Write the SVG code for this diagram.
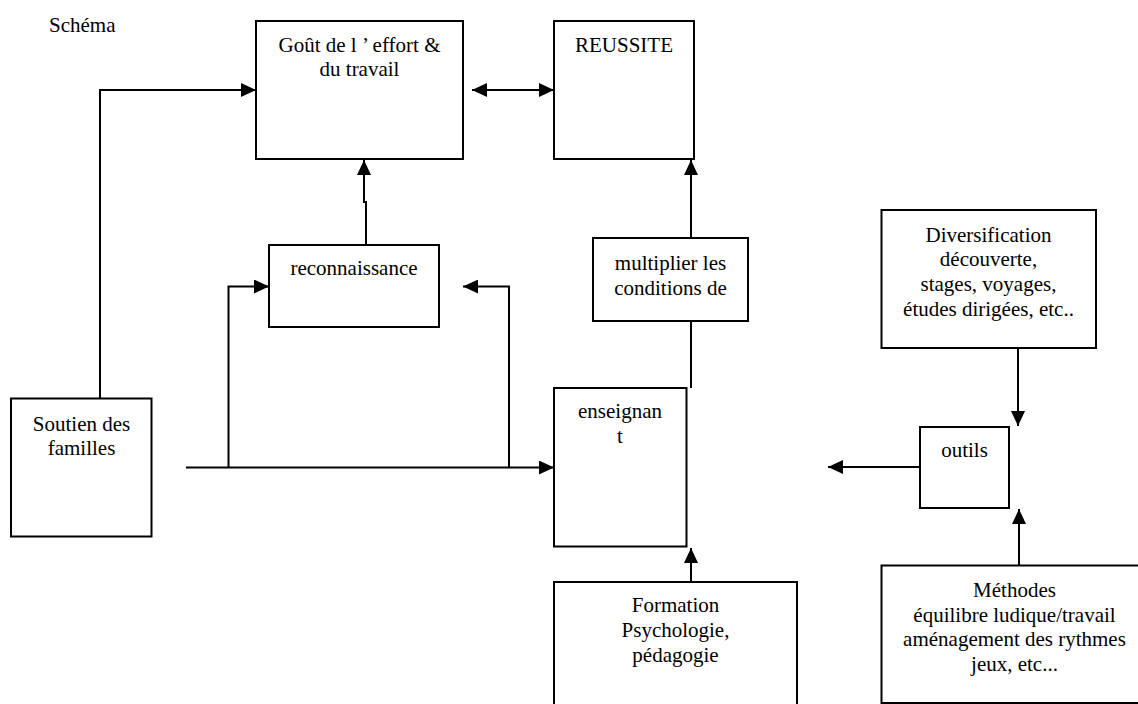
<svg xmlns="http://www.w3.org/2000/svg" width="1138" height="704" viewBox="0 0 1138 704">
<style>
text{font-family:'Liberation Serif','Times New Roman',Times,Tinos,'Nimbus Roman','DejaVu Serif',serif;font-size:21px;fill:#000;text-anchor:middle}
.box{fill:#fff;stroke:#000;stroke-width:2}
.c{fill:none;stroke:#000;stroke-width:2;marker-end:url(#ah)}
.n{fill:none;stroke:#000;stroke-width:2}
</style>
<defs>
<marker id="ah" markerUnits="userSpaceOnUse" markerWidth="15" markerHeight="14" refX="15" refY="7" orient="auto-start-reverse">
<path d="M0,0 L15,7 L0,14 z" fill="#000"/>
</marker>
</defs>
<rect width="1138" height="704" fill="#fff"/>
<text x="49" y="32" style="text-anchor:start">Schéma</text>
<g id="connectors">
<path class="c" d="M100,398 V90 H256"/>
<path class="c" d="M472,90 H554" style="marker-start:url(#ah)"/>
<path class="c" d="M366,245 V202 H364 V160"/>
<path class="c" d="M691,238 V160"/>
<path class="n" d="M691,321 V388"/>
<path class="c" d="M186,467.5 H554"/>
<path class="c" d="M228.5,467.5 V286.5 H269"/>
<path class="c" d="M509,467.5 V286.5 H463"/>
<path class="c" d="M691,582 V548"/>
<path class="c" d="M1018,348 V426"/>
<path class="c" d="M1019,565 V509"/>
<path class="c" d="M920,467 H828"/>
</g>
<g id="gout">
<rect class="box" x="256" y="21" width="207" height="138"/>
<text x="359.5" y="52">Goût de l ’ effort &amp;</text>
<text x="359.5" y="76">du travail</text>
</g>
<g id="reussite">
<rect class="box" x="554" y="21" width="140" height="138"/>
<text x="624" y="52">REUSSITE</text>
</g>
<g id="reconnaissance">
<rect class="box" x="269" y="245" width="170" height="82"/>
<text x="354" y="275">reconnaissance</text>
</g>
<g id="multiplier">
<rect class="box" x="593" y="238" width="155" height="83"/>
<text x="670.5" y="270">multiplier les</text>
<text x="670.5" y="295">conditions de</text>
</g>
<g id="soutien">
<rect class="box" x="11" y="398.5" width="140.5" height="138"/>
<text x="81.5" y="430.5">Soutien des</text>
<text x="81.5" y="455">familles</text>
</g>
<g id="enseignant">
<rect class="box" x="554" y="388" width="132.5" height="158.5"/>
<text x="620" y="418">enseignan</text>
<text x="620" y="443">t</text>
</g>
<g id="formation">
<rect class="box" x="554" y="582" width="243" height="130"/>
<text x="675.5" y="612">Formation</text>
<text x="675.5" y="637">Psychologie,</text>
<text x="675.5" y="662">pédagogie</text>
</g>
<g id="diversification">
<rect class="box" x="881.5" y="210" width="214.5" height="138"/>
<text x="988.5" y="241.5">Diversification</text>
<text x="988.5" y="266">découverte,</text>
<text x="988.5" y="291">stages, voyages,</text>
<text x="988.5" y="316">études dirigées, etc..</text>
</g>
<g id="outils">
<rect class="box" x="920" y="427" width="89" height="81"/>
<text x="964.5" y="457">outils</text>
</g>
<g id="methodes">
<rect class="box" x="881.5" y="565.5" width="266" height="137.5"/>
<text x="1014.5" y="596.5">Méthodes</text>
<text x="1014.5" y="621.5">équilibre ludique/travail</text>
<text x="1014.5" y="646">aménagement des rythmes</text>
<text x="1014.5" y="670.5">jeux, etc...</text>
</g>
</svg>
